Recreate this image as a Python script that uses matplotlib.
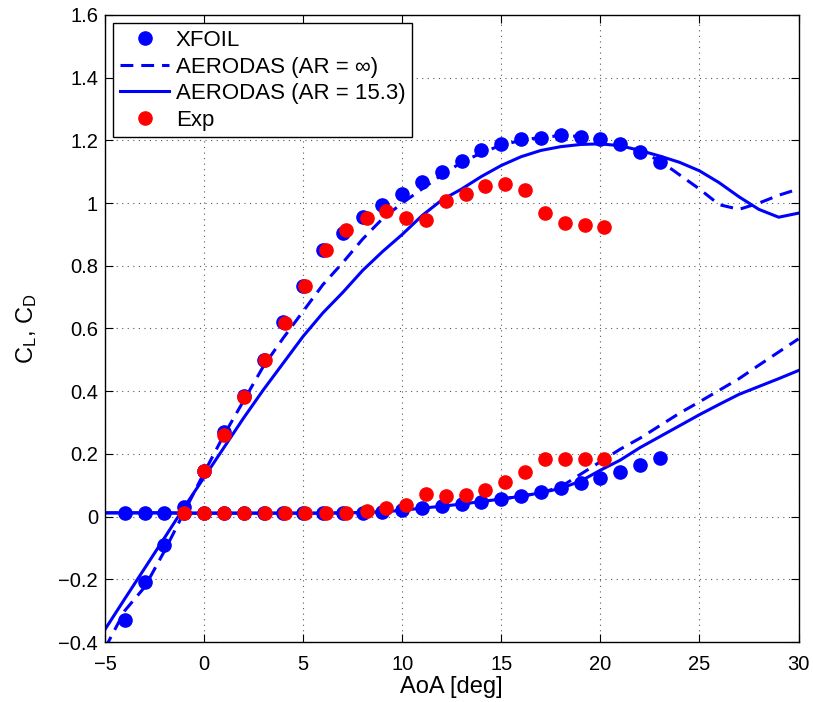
import matplotlib
matplotlib.use("Agg")
import matplotlib.pyplot as plt
import numpy as np

plt.rcParams['font.family'] = ['Liberation Sans', 'DejaVu Sans']
plt.rcParams['mathtext.fontset'] = 'custom'
plt.rcParams['mathtext.rm'] = 'Liberation Sans'
plt.rcParams['mathtext.it'] = 'Liberation Sans'

# XFOIL
xfoil_aoa = list(range(-4, 24))
xfoil_cl = [-0.33, -0.21, -0.09, 0.03, 0.147, 0.27, 0.386, 0.50, 0.62, 0.737, 0.85, 0.906,
            0.955, 0.995, 1.03, 1.068, 1.10, 1.135, 1.168, 1.187, 1.206, 1.209, 1.216, 1.212,
            1.206, 1.187, 1.164, 1.13]
xfoil_cd = [0.012, 0.012, 0.012, 0.011, 0.011, 0.011, 0.011, 0.011, 0.011, 0.011, 0.011, 0.012,
            0.013, 0.015, 0.02, 0.028, 0.033, 0.041, 0.047, 0.056, 0.065, 0.078, 0.09, 0.107,
            0.123, 0.142, 0.163, 0.188]

# AERODAS
aero_aoa = list(range(-5, 31))
aero_cl_inf = [-0.42, -0.30, -0.225, -0.11, 0.015, 0.14, 0.26, 0.37, 0.48, 0.57, 0.655, 0.74,
               0.81, 0.885, 0.95, 1.0, 1.045, 1.09, 1.13, 1.16, 1.185, 1.2, 1.21, 1.215, 1.213,
               1.205, 1.19, 1.165, 1.135, 1.09, 1.045, 0.995, 0.98, 1.0, 1.025, 1.045]
aero_cl_ar = [-0.36, -0.262, -0.165, -0.068, 0.03, 0.125, 0.22, 0.315, 0.405, 0.49, 0.575, 0.65,
              0.715, 0.785, 0.845, 0.9, 0.96, 1.01, 1.045, 1.085, 1.12, 1.148, 1.168, 1.18, 1.187,
              1.189, 1.183, 1.168, 1.15, 1.13, 1.103, 1.065, 1.02, 0.98, 0.955, 0.968]
aero_cd_inf = [0.012, 0.012, 0.012, 0.012, 0.011, 0.011, 0.011, 0.011, 0.011, 0.011, 0.011, 0.011,
               0.012, 0.013, 0.015, 0.02, 0.027, 0.033, 0.04, 0.048, 0.056, 0.065, 0.076, 0.095,
               0.135, 0.175, 0.215, 0.25, 0.29, 0.33, 0.366, 0.403, 0.44, 0.483, 0.525, 0.567]
aero_cd_ar = [0.012, 0.012, 0.012, 0.012, 0.011, 0.011, 0.011, 0.011, 0.011, 0.011, 0.011, 0.011,
              0.012, 0.013, 0.015, 0.02, 0.027, 0.033, 0.04, 0.048, 0.056, 0.065, 0.076, 0.09,
              0.113, 0.148, 0.18, 0.22, 0.255, 0.29, 0.325, 0.358, 0.39, 0.415, 0.44, 0.466]

# Experiment
exp_cl_aoa = [0.0, 1.0, 2.0, 3.05, 4.1, 5.1, 6.15, 7.15, 8.2, 9.2, 10.2, 11.2, 12.2, 13.2, 14.2,
              15.2, 16.2, 17.2, 18.2, 19.2, 20.2]
exp_cl = [0.147, 0.26, 0.38, 0.498, 0.618, 0.737, 0.85, 0.913, 0.953, 0.974, 0.952, 0.947, 1.007,
          1.03, 1.056, 1.061, 1.043, 0.969, 0.937, 0.929, 0.923]
exp_cd_aoa = [-1.0, 0.0, 1.0, 2.0, 3.05, 4.1, 5.1, 6.15, 7.15, 8.2, 9.2, 10.2, 11.2, 12.2, 13.2,
              14.2, 15.2, 16.2, 17.2, 18.2, 19.2, 20.2]
exp_cd = [0.012, 0.011, 0.011, 0.011, 0.011, 0.011, 0.011, 0.011, 0.013, 0.017, 0.028, 0.037,
          0.073, 0.065, 0.07, 0.084, 0.109, 0.142, 0.185, 0.185, 0.185, 0.185]

xticks = [-5, 0, 5, 10, 15, 20, 25, 30]
yticks = [-0.4, -0.2, 0, 0.2, 0.4, 0.6, 0.8, 1.0, 1.2, 1.4, 1.6]
yticklabels = ['\u22120.4', '\u22120.2', '0', '0.2', '0.4', '0.6', '0.8', '1', '1.2', '1.4', '1.6']
xticklabels = ['\u22125', '0', '5', '10', '15', '20', '25', '30']

fig = plt.figure(figsize=(8.13, 7.02), dpi=100)
ax = fig.add_axes([105/813, 1 - 642/702, (798.5 - 105)/813, (642 - 15)/702])

blue = (0, 0, 1)
red = (1, 0, 0)
ms = 9.5
lw = 2.2
dash = (4.2, 2.6)

ax.plot(xfoil_aoa, xfoil_cl, 'o', color=blue, ms=ms, mec=blue, label='XFOIL', zorder=3)
ax.plot(xfoil_aoa, xfoil_cd, 'o', color=blue, ms=ms, mec=blue, zorder=3)
ax.plot(aero_aoa, aero_cl_inf, '--', color=blue, lw=lw, dashes=dash,
        label='AERODAS (AR = \u221e)', zorder=2)
ax.plot(aero_aoa, aero_cd_inf, '--', color=blue, lw=lw, dashes=dash, zorder=2)
ax.plot(aero_aoa, aero_cl_ar, '-', color=blue, lw=lw, label='AERODAS (AR = 15.3)', zorder=2)
ax.plot(aero_aoa, aero_cd_ar, '-', color=blue, lw=lw, zorder=2)
ax.plot(exp_cl_aoa, exp_cl, 'o', color=red, ms=ms, mec=red, label='Exp', zorder=4)
ax.plot(exp_cd_aoa, exp_cd, 'o', color=red, ms=ms, mec=red, zorder=4)

ax.set_xlim(-5, 30)
ax.set_ylim(-0.4, 1.6)
ax.set_xticks(xticks)
ax.set_xticklabels(xticklabels)
ax.set_yticks(yticks)
ax.set_yticklabels(yticklabels)
ax.tick_params(direction='in', top=True, right=True, labelsize=14.5, length=6, width=0.8)
ax.tick_params(axis='x', pad=9)
ax.tick_params(axis='y', pad=5)
ax.grid(True, linestyle=(0, (1, 4)), color='0.35', linewidth=0.8)
for s in ax.spines.values():
    s.set_linewidth(1.0)

ax.set_xlabel('AoA [deg]', fontsize=17, labelpad=2)
ax.set_ylabel('C$_L$, C$_D$', fontsize=17, labelpad=14)

leg = ax.legend(loc='upper left', fontsize=16, handlelength=2.2, borderaxespad=0.38,
                fancybox=False, framealpha=1, edgecolor='black', borderpad=0.3,
                labelspacing=0.25, handletextpad=0.3)
leg.get_frame().set_linewidth(1.0)

fig.savefig('out.png', dpi=100)
